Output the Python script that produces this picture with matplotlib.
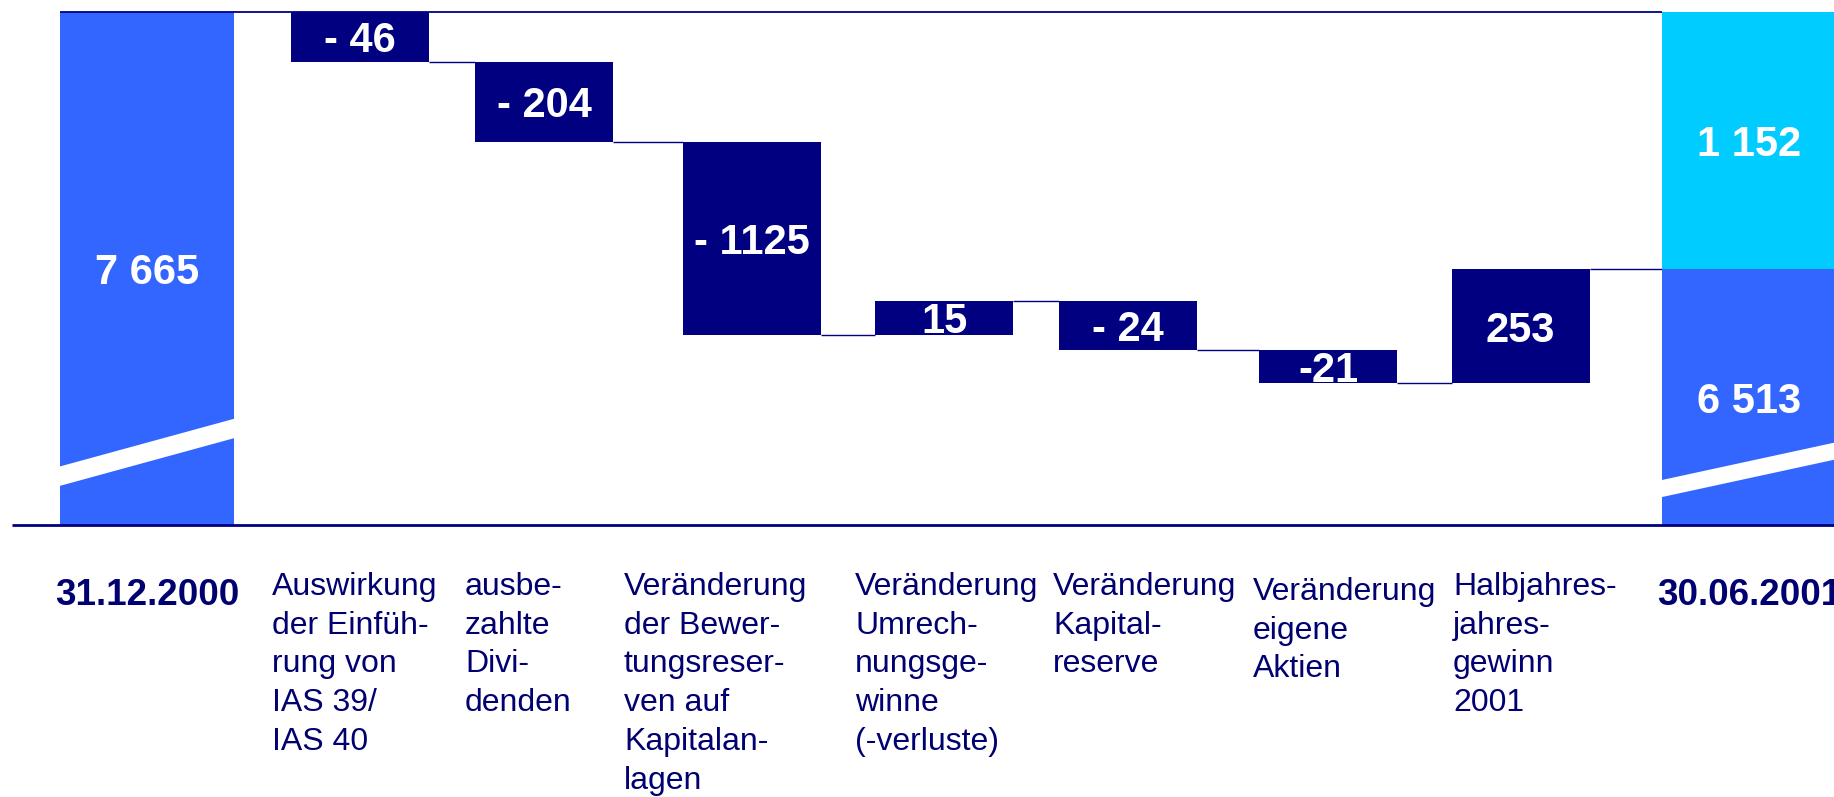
"""plot.py: Eigenkapital-Entwicklung 31.12.2000 -> 30.06.2001 (waterfall)"""

import matplotlib
matplotlib.use("Agg")
import matplotlib.pyplot as plt
from matplotlib.patches import Polygon

# values shown on the chart
start_value = 7665
deltas = [-46, -204, -1125, 15, -24, -21, 253]
delta_labels = ["- 46", "- 204", "- 1125", "15", "- 24", "-21", "253"]
end_parts = [6513, 1152]

# the chart is not drawn to scale (broken axis), so the step levels
# are read off the picture in the chart's own units (baseline 0, top 7665)
drawn_levels = [7665, 6925, 5730, 2839, 3354, 2622, 2122, 3818]

categories = [
    "31.12.2000",
    "Auswirkung\nder Einfüh-\nrung von\nIAS 39/\nIAS 40",
    "ausbe-\nzahlte\nDivi-\ndenden",
    "Veränderung\nder Bewer-\ntungsreser-\nven auf\nKapitalan-\nlagen",
    "Veränderung\nUmrech-\nnungsge-\nwinne\n(-verluste)",
    "Veränderung\nKapital-\nreserve",
    "Veränderung\neigene\nAktien",
    "Halbjahres-\njahres-\ngewinn\n2001",
    "30.06.2001",
]

# layout (pixels of the 1834 x 797 picture)
W, H = 1834, 797
BASE_PX, TOP_PX = 525, 12
bar_x = [147, 360, 544, 752, 944, 1128, 1328, 1520.5, 1749]
end_width = 174
step_width = 138
label_left = [272, 465, 624, 855, 1053, 1253, 1453]
label_top = [572, 572, 572, 572, 572, 577, 572]

NAVY = "#000080"
BLUE = "#3366FF"
CYAN = "#00CCFF"
TEXT = "#000070"
FONT = "Liberation Sans"


def fmt(v):
    return "{:,}".format(v).replace(",", " ")


def px_frac(px):
    # picture y pixel -> axes fraction (for text below the baseline)
    return (BASE_PX - px) / (BASE_PX - TOP_PX)


def add_break(ax, xc, width, y_left, y_right, gap):
    # white slanted stripe marking the axis break
    x0, x1 = xc - width / 2, xc + width / 2 + 2
    pts = [(x0, y_left - gap / 2), (x1, y_right - gap / 2),
           (x1, y_right + gap / 2), (x0, y_left + gap / 2)]
    ax.add_patch(Polygon(pts, closed=True, facecolor="white",
                         edgecolor="none", zorder=4))


def main():
    fig = plt.figure(figsize=(W / 100, H / 100), dpi=100)
    ax = fig.add_axes([0, (H - BASE_PX) / H, 1, (BASE_PX - TOP_PX) / H])
    ax.set_xlim(0, W)
    ax.set_ylim(0, start_value)
    ax.axis("off")

    val_kw = dict(color="white", fontsize=30, fontweight="bold",
                  family=FONT, ha="center", va="center_baseline", zorder=6)

    # start bar
    ax.bar(bar_x[0], drawn_levels[0], width=end_width, color=BLUE, zorder=3)
    ax.text(bar_x[0], drawn_levels[0] / 2, fmt(start_value), **val_kw)
    add_break(ax, bar_x[0], end_width, 730, 1450, 290)

    # steps
    for i, d in enumerate(deltas):
        lo = min(drawn_levels[i], drawn_levels[i + 1])
        hi = max(drawn_levels[i], drawn_levels[i + 1])
        ax.bar(bar_x[i + 1], hi - lo, bottom=lo, width=step_width,
               color=NAVY, zorder=3)
        ax.text(bar_x[i + 1], (lo + hi) / 2, delta_labels[i], **val_kw)

    # end bar, two parts
    split = drawn_levels[-1]
    ax.bar(bar_x[-1], split, width=end_width, color=BLUE, zorder=3)
    ax.bar(bar_x[-1], drawn_levels[0] - split, bottom=split,
           width=end_width, color=CYAN, zorder=3)
    ax.text(bar_x[-1], split / 2, fmt(end_parts[0]), **val_kw)
    ax.text(bar_x[-1], (split + drawn_levels[0]) / 2, fmt(end_parts[1]),
            **val_kw)
    add_break(ax, bar_x[-1], end_width, 545, 1115, 255)

    # connector lines
    for i in range(1, len(drawn_levels)):
        x0 = bar_x[i] + step_width / 2
        x1 = bar_x[i + 1] - (end_width if i + 1 == len(bar_x) - 1 else step_width) / 2
        ax.hlines(drawn_levels[i], x0, x1, color=NAVY, lw=1.0, zorder=2)
    ax.hlines(start_value, bar_x[0] - end_width / 2,
              bar_x[-1] - end_width / 2, color=NAVY, lw=1.3, zorder=5,
              clip_on=False)
    ax.hlines(0, 12, W, color=NAVY, lw=2.0, zorder=5, clip_on=False)

    # category labels
    tr = ax.get_xaxis_transform()
    for i in (0, len(categories) - 1):
        ax.text(bar_x[i], px_frac(605), categories[i], transform=tr,
                ha="center", va="baseline", fontsize=26.5,
                fontweight="bold", color=TEXT, family=FONT, clip_on=False)
    for i, lab in enumerate(categories[1:-1]):
        ax.text(label_left[i], px_frac(label_top[i]), lab, transform=tr,
                ha="left", va="top", fontsize=23, color=TEXT,
                family=FONT, linespacing=1.38, clip_on=False)

    fig.savefig("out.png", dpi=100)


if __name__ == "__main__":
    main()
